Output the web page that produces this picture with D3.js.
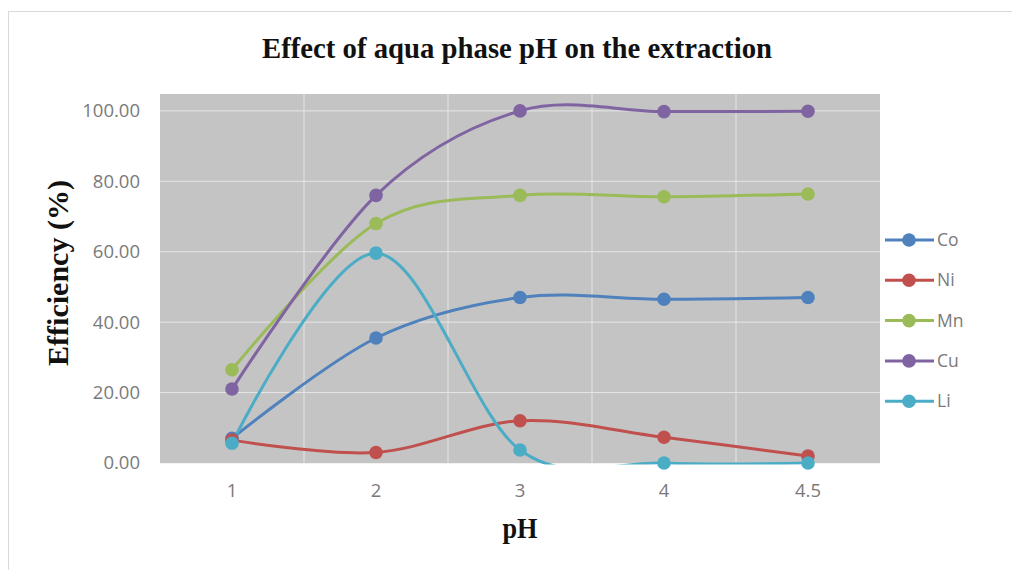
<!DOCTYPE html>
<html><head><meta charset="utf-8">
<script src="https://cdn.jsdelivr.net/npm/d3@7"></script>
<style>body{margin:0;background:#fff}svg{display:block}</style>
</head><body><svg id="c" width="1012" height="570"></svg>
<script>
const categories = ["1","2","3","4","4.5"];
const seriesNames = ["Co","Ni","Mn","Cu","Li"];
const coValues = [7.0, 35.5, 47.0, 46.5, 47.0];
const niValues = [6.5, 3.0, 12.0, 7.3, 2.0];
const mnValues = [26.5, 68.0, 76.0, 75.6, 76.4];
const cuValues = [21.0, 76.0, 100.0, 99.8, 99.9];
const liValues = [5.6, 59.6, 3.7, 0.0, 0.0];
const yTicks = [0, 20, 40, 60, 80, 100];
const colors = ["#4f81bd","#c0504d","#9bbb59","#8064a2","#4bacc6"];
const series = [coValues, niValues, mnValues, cuValues, liValues];

const svg = d3.select("#c");
const L = 160, R = 880, T = 94, B = 463;

// outer frame
svg.append("rect").attr("x",8.5).attr("y",11.5).attr("width",1010).attr("height",570)
  .attr("fill","none").attr("stroke","#d9d9d9");

const x = d3.scaleBand().domain(categories).range([L,R]).padding(0);
const y = d3.scaleLinear().domain([0,104.8]).range([B,T]);

svg.append("rect").attr("x",L).attr("y",T).attr("width",R-L).attr("height",B-T).attr("fill","#c4c4c4");

svg.append("g").selectAll("line").data(yTicks.slice(1)).join("line")
  .attr("x1",L).attr("x2",R).attr("y1",d=>y(d)).attr("y2",d=>y(d))
  .attr("stroke","#e6e6e6").attr("stroke-width",1);
svg.append("g").selectAll("line").data(categories.slice(1)).join("line")
  .attr("x1",d=>x(d)).attr("x2",d=>x(d)).attr("y1",T).attr("y2",B)
  .attr("stroke","#e6e6e6").attr("stroke-width",1);

const tickFont = "Open Sans", tickSize = 18.5, tickColor = "#7a7a7a";
const yAxis = d3.axisLeft(y).tickValues(yTicks).tickSize(0).tickPadding(20).tickFormat(d3.format(".2f"));
const gy = svg.append("g").attr("transform",`translate(${L},0)`).call(yAxis);
gy.select(".domain").remove();
gy.selectAll("text").attr("font-family",tickFont).attr("font-size",tickSize).attr("fill",tickColor);

const xAxis = d3.axisBottom(x).tickSize(0).tickPadding(21);
const gx = svg.append("g").attr("transform",`translate(0,${B})`).call(xAxis);
gx.select(".domain").attr("stroke","#f2f2f2");
gx.selectAll("text").attr("font-family",tickFont).attr("font-size",tickSize).attr("fill",tickColor);

svg.append("clipPath").attr("id","clip").append("rect")
  .attr("x",L).attr("y",T).attr("width",R-L).attr("height",B-T+1.5);

const cx = c => x(c) + x.bandwidth()/2;
const line = d3.line().x((d,i)=>cx(categories[i])).y(d=>y(d)).curve(d3.curveCardinal.tension(0));

series.forEach((vals,k)=>{
  svg.append("path").datum(vals).attr("d",line).attr("fill","none")
    .attr("stroke",colors[k]).attr("stroke-width",3).attr("clip-path","url(#clip)");
});
series.forEach((vals,k)=>{
  svg.append("g").selectAll("circle").data(vals).join("circle")
    .attr("cx",(d,i)=>cx(categories[i])).attr("cy",d=>y(d)).attr("r",6.8).attr("fill",colors[k]);
});

const lg = svg.append("g");
seriesNames.forEach((n,k)=>{
  const yy = 240 + k*40.3;
  lg.append("line").attr("x1",885).attr("x2",934).attr("y1",yy).attr("y2",yy).attr("stroke",colors[k]).attr("stroke-width",3);
  lg.append("circle").attr("cx",909).attr("cy",yy).attr("r",6.8).attr("fill",colors[k]);
  lg.append("text").attr("x",937).attr("y",yy).attr("dy","0.35em").text(n)
    .attr("font-family",tickFont).attr("font-size",17.5).attr("fill",tickColor);
});

svg.append("text").attr("x",517).attr("y",58).attr("text-anchor","middle")
  .attr("font-family","Liberation Serif").attr("font-weight","bold").attr("font-size",30)
  .attr("textLength",510).attr("lengthAdjust","spacingAndGlyphs")
  .attr("fill","#111").text("Effect of aqua phase pH on the extraction");
svg.append("text").attr("transform","translate(68,273) rotate(-90)").attr("text-anchor","middle")
  .attr("font-family","Liberation Serif").attr("font-weight","bold").attr("font-size",30)
  .attr("textLength",186).attr("lengthAdjust","spacingAndGlyphs")
  .attr("fill","#111").text("Efficiency (%)");
svg.append("text").attr("x",520).attr("y",538).attr("text-anchor","middle")
  .attr("font-family","Liberation Serif").attr("font-weight","bold").attr("font-size",29)
  .attr("textLength",35).attr("lengthAdjust","spacingAndGlyphs")
  .attr("fill","#111").text("pH");
</script></body></html>
